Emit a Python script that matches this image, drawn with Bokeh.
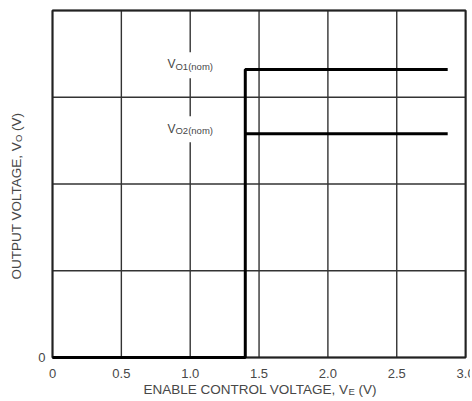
import math
from bokeh.plotting import figure
from bokeh.models import Range1d, Label, ColumnDataSource
from bokeh.core.properties import value
from bokeh.embed import file_html
from bokeh.resources import INLINE

# ---- data ----
x_ticks = [0, 0.5, 1.0, 1.5, 2.0, 2.5, 3.0]
x_tick_labels = ["0", "0.5", "1.0", "1.5", "2.0", "2.5", "3.0"]
y_grid_ticks = [0, 1, 2, 3, 4]
y_ticks = [0]
y_tick_labels = ["0"]

ve_out1 = [0, 1.4, 1.4, 2.87]
vo_out1 = [0, 0, 3.32, 3.32]
ve_out2 = [1.4, 2.87]
vo_out2 = [2.58, 2.58]

curve_subscripts = ["O1(nom)", "O2(nom)"]
curve_levels = [3.32, 2.58]

TXT = "#474747"
FONT = "Liberation Sans"

x_min, x_max = x_ticks[0], x_ticks[-1]
y_min, y_max = y_grid_ticks[0], y_grid_ticks[-1]

# frame covers the whole canvas; the chart box is drawn inside it
p = figure(width=470, height=398, output_backend="svg", toolbar_location=None,
           x_range=Range1d(-0.3777, 3.0356), y_range=Range1d(-0.4726, 4.115),
           x_axis_location=None, y_axis_location=None,
           min_border_left=0, min_border_right=0, min_border_top=0, min_border_bottom=0)
p.outline_line_color = None
p.background_fill_color = "white"
p.border_fill_color = "white"
p.xgrid.visible = False
p.ygrid.visible = False

# grid lines
p.segment(x0=x_ticks, y0=[y_min] * len(x_ticks), x1=x_ticks, y1=[y_max] * len(x_ticks),
          line_color="#333333", line_width=1.4)
p.segment(x0=[x_min] * len(y_grid_ticks), y0=y_grid_ticks, x1=[x_max] * len(y_grid_ticks),
          y1=y_grid_ticks, line_color="#333333", line_width=1.4)
# chart box
p.quad(left=[x_min], right=[x_max], bottom=[y_min], top=[y_max],
       fill_color=None, line_color="#222222", line_width=2)

# white boxes behind curve labels (gridline gap)
p.rect(x=[1.01] * len(curve_levels), y=[v + 0.05 for v in curve_levels],
       width=50, height=26, width_units="screen", height_units="screen",
       fill_color="white", line_color=None)

p.line(ve_out1, vo_out1, line_color="black", line_width=3)
p.line(ve_out2, vo_out2, line_color="black", line_width=3)

# tick labels
xsrc = ColumnDataSource(dict(x=x_ticks, y=[y_min] * len(x_ticks), t=x_tick_labels))
p.text(x="x", y="y", text="t", source=xsrc, y_offset=16, text_align="center",
       text_baseline="alphabetic", text_font=value(FONT), text_font_size="13px",
       text_color=TXT)
ysrc = ColumnDataSource(dict(x=[x_min] * len(y_ticks), y=y_ticks, t=y_tick_labels))
p.text(x="x", y="y", text="t", source=ysrc, x_offset=-7, y_offset=0, text_align="right",
       text_baseline="alphabetic", text_font=value(FONT), text_font_size="13px",
       text_color=TXT)

# curve labels
for sub, lvl in zip(curve_subscripts, curve_levels):
    p.add_layout(Label(x=0.835, y=lvl, y_offset=5, text="V", text_font=FONT,
                       text_font_size="12px", text_color=TXT, text_align="left",
                       text_baseline="alphabetic"))
    p.add_layout(Label(x=0.835, y=lvl, x_offset=8, y_offset=3, text=sub, text_font=FONT,
                       text_font_size="9.5px", text_color=TXT, text_align="left",
                       text_baseline="alphabetic"))

# x axis title
xt_x, xt_y = 2.15, -0.3746
p.add_layout(Label(x=xt_x, y=xt_y, text="ENABLE CONTROL VOLTAGE, V", text_font=FONT,
                   text_font_size="13.5px", text_color=TXT, text_align="right",
                   text_baseline="alphabetic"))
p.add_layout(Label(x=xt_x, y=xt_y, y_offset=-2, text="E", text_font=FONT,
                   text_font_size="9.5px", text_color=TXT, text_align="left",
                   text_baseline="alphabetic"))
p.add_layout(Label(x=xt_x, y=xt_y, x_offset=10, text="(V)", text_font=FONT,
                   text_font_size="13.5px", text_color=TXT, text_align="left",
                   text_baseline="alphabetic"))

# y axis title
yt_x, yt_y = -0.258, 2.484
rot = math.pi / 2
p.add_layout(Label(x=yt_x, y=yt_y, angle=rot, text="OUTPUT VOLTAGE, V", text_font=FONT,
                   text_font_size="13.5px", text_color=TXT, text_align="right",
                   text_baseline="alphabetic"))
p.add_layout(Label(x=yt_x, y=yt_y, angle=rot, x_offset=2, text="O", text_font=FONT,
                   text_font_size="9.5px", text_color=TXT, text_align="left",
                   text_baseline="alphabetic"))
p.add_layout(Label(x=yt_x, y=yt_y, angle=rot, y_offset=11, text="(V)", text_font=FONT,
                   text_font_size="13.5px", text_color=TXT, text_align="left",
                   text_baseline="alphabetic"))

open("out.html", "w").write(file_html(p, INLINE))
